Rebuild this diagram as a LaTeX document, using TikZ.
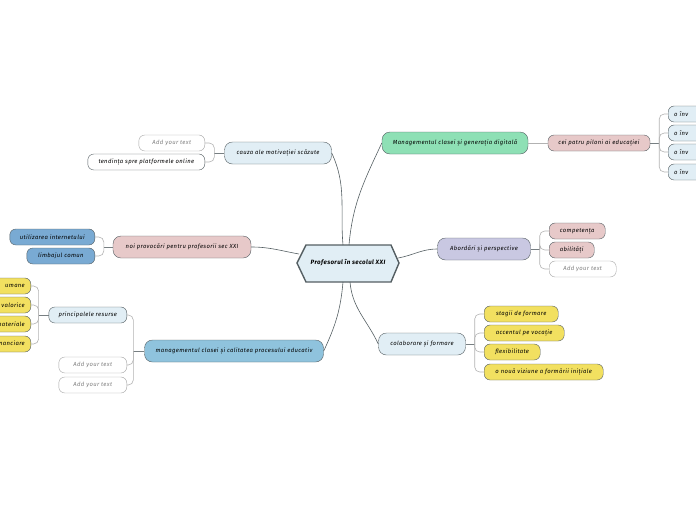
\documentclass[tikz,border=0pt]{standalone}
\usepackage{fontspec}
\setmainfont{Fira Sans}[LetterSpace=6]
\usetikzlibrary{positioning}

\definecolor{paleblue}{HTML}{E1EEF5}
\definecolor{rosy}{HTML}{E7C9C9}
\definecolor{midblue}{HTML}{79AAD3}
\definecolor{skyblue}{HTML}{8FC3DD}
\definecolor{mint}{HTML}{8EE0B5}
\definecolor{lilac}{HTML}{C9C8E2}
\definecolor{sun}{HTML}{F2E060}
\definecolor{edgegray}{HTML}{555F63}

\begin{document}
\begin{tikzpicture}[
  x=1pt, y=-1pt,
  font=\fontsize{5.9}{7}\selectfont\itshape,
  topic/.style={draw=edgegray, rounded corners=8pt, minimum height=22pt, inner xsep=6pt, inner ysep=0pt},
  leaf/.style={draw=edgegray, rounded corners=6pt, minimum height=16pt, inner xsep=6pt, inner ysep=0pt},
  blank/.style={leaf, draw=gray!70, fill=white, text=gray},
  link/.style={draw=edgegray, line width=0.6pt},
  bracket/.style={draw=gray!60, line width=0.6pt, rounded corners=5pt},
  stub/.style={draw=edgegray!80, line width=1pt},
]
\useasboundingbox (0,0) rectangle (696,520);
\clip (0,0) rectangle (696,520);

% --- central topic ---
\coordinate (hexL) at (297,263);
\coordinate (hexR) at (399,263);
\filldraw[fill=paleblue, draw=edgegray, line width=1.4pt]
  (hexL) -- (306,245) -- (391,245) -- (hexR) -- (391,282) -- (306,282) -- cycle;
\node[font=\fontsize{6.2}{7}\selectfont\itshape\bfseries] (root) at (348,263) {Profesorul în secolul XXI};
\coordinate (topA) at (343,245);
\coordinate (topB) at (349,245);
\coordinate (botA) at (343,282);
\coordinate (botB) at (350,282);
\coordinate (sideL) at (299,254);
\coordinate (sideR) at (398,258);

% --- left branches ---
\node[topic, fill=paleblue, minimum width=107pt] (motiv) at (278,153) {cauza ale motivației scăzute};
\node[blank, anchor=east, minimum width=66pt] (motivA) at (205,143) {Add your text};
\node[leaf, fill=white, anchor=east, minimum width=117pt] (motivB) at (205,162) {tendința spre platformele online};

\node[topic, fill=rosy, minimum width=138pt] (provoc) at (182,247) {noi provocări pentru profesorii sec XXI};
\node[leaf, fill=midblue, anchor=east, minimum width=85pt] (provocA) at (95,237) {utilizarea internetului};
\node[leaf, fill=midblue, anchor=east, minimum width=68pt] (provocB) at (95,256) {limbajul comun};

\node[topic, fill=skyblue, minimum width=179pt] (calit) at (234,351) {managementul clasei și calitatea procesului educativ};
\node[leaf, fill=paleblue, anchor=east, minimum width=78pt] (resurse) at (127,315) {principalele resurse};
\node[blank, anchor=east, minimum width=68pt] (calitA) at (127,365) {Add your text};
\node[blank, anchor=east, minimum width=68pt] (calitB) at (127,385) {Add your text};

% resources, cut by the left edge
\foreach \i/\y/\txt in {1/286/umane, 2/305/valorice, 3/324/materiale, 4/344/financiare}
  \node[leaf, fill=sun, anchor=east, minimum width=60pt, align=right, text width=50pt] (res\i) at (31,\y) {\txt};

% --- right branches ---
\node[topic, fill=mint, minimum width=146pt] (digit) at (455,143) {Managementul clasei și generația digitală};
\node[leaf, fill=rosy, minimum width=102pt] (piloni) at (599,143) {cei patru piloni ai educației};
\foreach \i/\y in {1/114, 2/133, 3/152, 4/172}
  \node[leaf, fill=paleblue, anchor=west, minimum width=60pt, align=left, text width=48pt] (pil\i) at (668,\y) {o înv};

\node[topic, fill=lilac, minimum width=93pt] (abord) at (484,249) {Abordări și perspective};
\node[leaf, fill=rosy, anchor=west, minimum width=56pt] (abordA) at (549,231) {competența};
\node[leaf, fill=rosy, anchor=west, minimum width=45pt] (abordB) at (549,250) {abilități};
\node[blank, anchor=west, minimum width=67pt] (abordC) at (549,269) {Add your text};

\node[topic, fill=paleblue, minimum width=87pt] (colab) at (422,344) {colaborare și formare};
\node[leaf, fill=sun, anchor=west, minimum width=74pt] (colabA) at (484,314) {stagii de formare};
\node[leaf, fill=sun, anchor=west, minimum width=80pt] (colabB) at (484,333) {accentul pe vocație};
\node[leaf, fill=sun, anchor=west, minimum width=56pt] (colabC) at (484,352) {flexibilitate};
\node[leaf, fill=sun, anchor=west, minimum width=119pt] (colabD) at (484,372) {o nouă viziune a formării inițiale};

% --- links from the centre ---
\draw[link] (topA) to[out=95, in=-65] (motiv.east);
\draw[link] (topB) to[out=85, in=-115] (digit.west);
\draw[link] (sideL) to[out=170, in=0] (provoc.east);
\draw[link] (sideR) to[out=10, in=180] (abord.west);
\draw[link] (botA) to[out=-95, in=65] (calit.east);
\draw[link] (botB) to[out=-85, in=115] (colab.west);

% --- brackets to the leaves ---
\draw[stub] (motiv.west) -- ++(-10,0) coordinate (jm);
\foreach \c in {motivA, motivB} \draw[bracket] (jm) |- (\c.east);
\draw[stub] (provoc.west) -- ++(-9,0) coordinate (jp);
\foreach \c in {provocA, provocB} \draw[bracket] (jp) |- (\c.east);
\draw[stub] (calit.west) -- ++(-11,0) coordinate (jc);
\foreach \c in {resurse, calitA, calitB} \draw[bracket] (jc) |- (\c.east);
\draw[stub] (resurse.west) -- ++(-10,0) coordinate (jr);
\foreach \c in {res1, res2, res3, res4} \draw[bracket] (jr) |- (\c.east);

\draw[link, gray!60] (digit.east) -- (piloni.west);
\draw[stub] (piloni.east) -- ++(9,0) coordinate (jq);
\foreach \c in {pil1, pil2, pil3, pil4} \draw[bracket] (jq) |- (\c.west);
\draw[stub] (abord.east) -- ++(9,0) coordinate (ja);
\foreach \c in {abordA, abordB, abordC} \draw[bracket] (ja) |- (\c.west);
\draw[stub] (colab.east) -- ++(9,0) coordinate (jk);
\foreach \c in {colabA, colabB, colabC, colabD} \draw[bracket] (jk) |- (\c.west);
\end{tikzpicture}
\end{document}
